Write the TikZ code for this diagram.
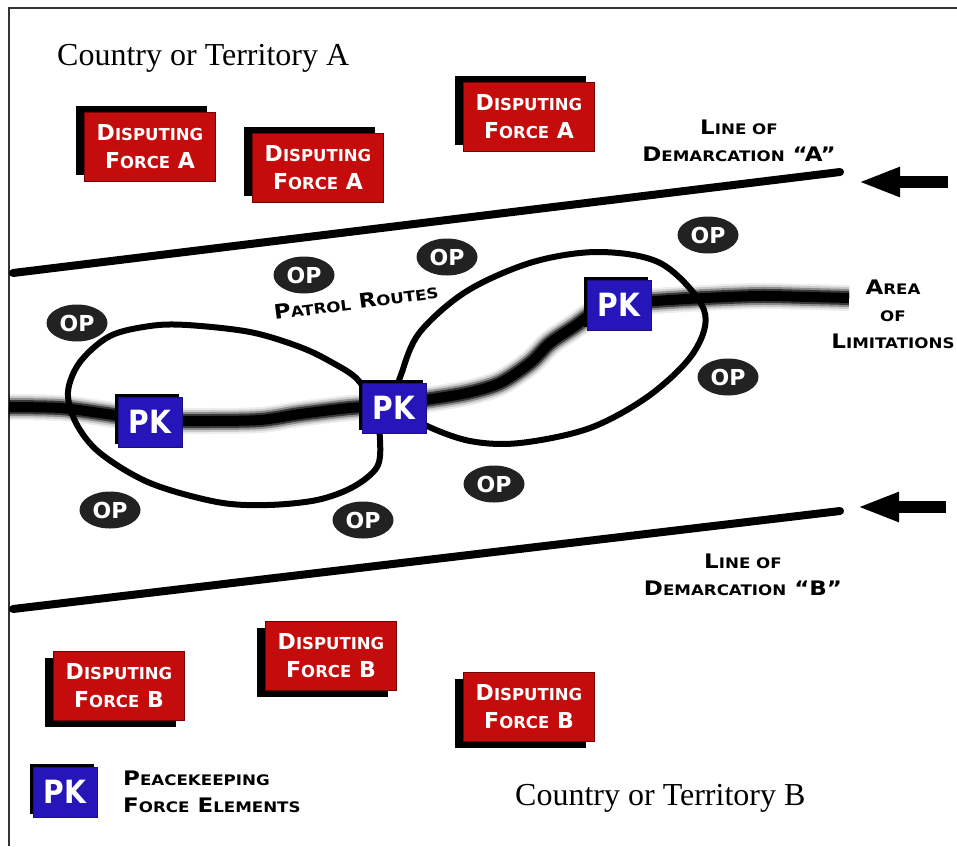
\documentclass[tikz,border=0pt]{standalone}
\usepackage{fontspec}
\setmainfont{Liberation Serif}
\newfontfamily\lblfont{DejaVu Sans}
\newfontfamily\widefont[FakeStretch=1.15]{DejaVu Sans}
\newfontfamily\pkfont[FakeStretch=0.88]{DejaVu Sans}
\usetikzlibrary{shapes.geometric}
\usetikzlibrary{shadows}
\usetikzlibrary{arrows.meta}
\usetikzlibrary{positioning}
\definecolor{force_red}{RGB}{196,12,12}
\definecolor{pk_blue}{RGB}{38,22,186}
\definecolor{op_gray}{RGB}{34,34,34}
\newcommand\smsz{14.5}
\newcommand\smc[2]{#1{\fontsize{\smsz}{\smsz}\selectfont #2}}

\begin{document}
\begin{tikzpicture}[x=1pt,y=-1pt,
  force/.style={rectangle,fill=force_red,draw=red!45!black,line width=0.8pt,minimum width=131pt,minimum height=69pt,inner sep=0pt,text=white,align=center,font=\lblfont\bfseries\fontsize{22}{28}\selectfont\renewcommand\smsz{16.5}},
  shadow_up/.style={general shadow={shadow xshift=-9pt,shadow yshift=7pt,fill=black}},
  shadow_down/.style={general shadow={shadow xshift=-9pt,shadow yshift=-6pt,fill=black}},
  pk/.style={rectangle,fill=pk_blue,draw=pk_blue!70!black,minimum width=64pt,minimum height=50pt,inner sep=0pt,text=white,font=\pkfont\bfseries\fontsize{32}{32}\selectfont,general shadow={shadow xshift=-3pt,shadow yshift=3pt,fill=black}},
  op/.style={ellipse,fill=op_gray,minimum width=61pt,minimum height=37pt,inner sep=0pt,text=white,font=\lblfont\bfseries\fontsize{22}{22}\selectfont},
  lbl/.style={align=center,inner sep=0pt,font=\widefont\bfseries\fontsize{20}{27}\selectfont},
  country/.style={anchor=base west,inner sep=0pt,font=\fontsize{32}{32}\selectfont},
  demarc/.style={line width=8pt,line cap=round},
  push/.style={line width=12pt,-{Triangle[length=42pt,width=27pt]}},
  route/.style={line width=6pt},
  ]

\useasboundingbox (0,0) rectangle (957,846);

% frame
\draw[line width=1.5pt,black!80] (9,846) -- (9,8) -- (957,8);

% area of limitations
\foreach \w/\o in {26/0.07,22/0.14,18/0.3,14/0.6,10/1}
  \draw[line width=\w pt,opacity=\o,line join=round] plot[smooth,tension=0.5] coordinates {(9,407) (60,408) (100,413) (150,420) (200,421) (260,420) (300,414) (350,408) (393,405) (425,400) (467,393) (500,383) (530,363) (550,343) (575,326) (596,311) (618,304) (655,301) (705,298) (760,296) (810,297) (849,298)};

% patrol routes
\draw[route] plot[smooth cycle,tension=0.55] coordinates {(375,410) (380,440) (377,467) (353,487) (317,500) (267,505) (217,502) (150,483) (100,453) (76,423) (68,392) (80,362) (110,336) (150,326) (187,325) (250,332) (300,347) (333,363) (358,380)};
\draw[route] plot[smooth cycle,tension=0.55] coordinates {(395,405) (402,372) (420,332) (467,291) (533,262) (600,252) (662,264) (704,310) (694,352) (650,395) (590,428) (520,443) (470,441) (425,425)};

% lines of demarcation
\coordinate (lineA west) at (13,273);
\coordinate (lineA east) at (840,172);
\coordinate (lineB west) at (13,609);
\coordinate (lineB east) at (840,511);
\draw[demarc] (lineA west) -- (lineA east);
\draw[demarc] (lineB west) -- (lineB east);

\coordinate (arrA tail) at (948,182);
\coordinate (arrA tip) at (858,182);
\coordinate (arrB tail) at (946,507);
\coordinate (arrB tip) at (857,507);
\draw[push] (arrA tail) -- (arrA tip);
\draw[push] (arrB tail) -- (arrB tip);

% disputing forces
\node[force,shadow_up] (forceA1) at (150,147) {\smc{D}{ISPUTING}\\\smc{F}{ORCE} A};
\node[force,shadow_up] (forceA2) at (318,168) {\smc{D}{ISPUTING}\\\smc{F}{ORCE} A};
\node[force,shadow_up] (forceA3) at (529,117) {\smc{D}{ISPUTING}\\\smc{F}{ORCE} A};
\node[force,shadow_down] (forceB1) at (119,686) {\smc{D}{ISPUTING}\\\smc{F}{ORCE} B};
\node[force,shadow_down] (forceB2) at (331,656) {\smc{D}{ISPUTING}\\\smc{F}{ORCE} B};
\node[force,shadow_down] (forceB3) at (529,707) {\smc{D}{ISPUTING}\\\smc{F}{ORCE} B};

% peacekeepers
\node[pk] (pk1) at (150,422) {PK};
\node[pk] (pk2) at (394,408) {PK};
\node[pk] (pk3) at (619,305) {PK};
\node[pk] (pk_key) at (65,792) {PK};

% observation posts
\node[op] (op1) at (304,275) {OP};
\node[op] (op2) at (447,257) {OP};
\node[op] (op3) at (708,235) {OP};
\node[op] (op4) at (77,323) {OP};
\node[op] (op5) at (728,377) {OP};
\node[op] (op6) at (110,510) {OP};
\node[op] (op7) at (363,520) {OP};
\node[op] (op8) at (494,484) {OP};

% text
\node[country] (landA) at (57,65) {Country or Territory A};
\node[country] (landB) at (515,805) {Country or Territory B};
\node[lbl] (demA) at (739,141) {\smc{L}{INE OF}\\\smc{D}{EMARCATION} “A”};
\node[lbl] (demB) at (743,575) {\smc{L}{INE OF}\\\smc{D}{EMARCATION} “B”};
\node[lbl] (limits) at (893,314) {\smc{A}{REA}\\\smc{}{OF}\\\smc{L}{IMITATIONS}};
\node[lbl,rotate=7.5] (routes) at (356,302) {\smc{P}{ATROL} \smc{R}{OUTES}};
\node[lbl,align=left,anchor=west] (key) at (123,792) {\smc{P}{EACEKEEPING}\\\smc{F}{ORCE} \smc{E}{LEMENTS}};

\end{tikzpicture}
\end{document}
